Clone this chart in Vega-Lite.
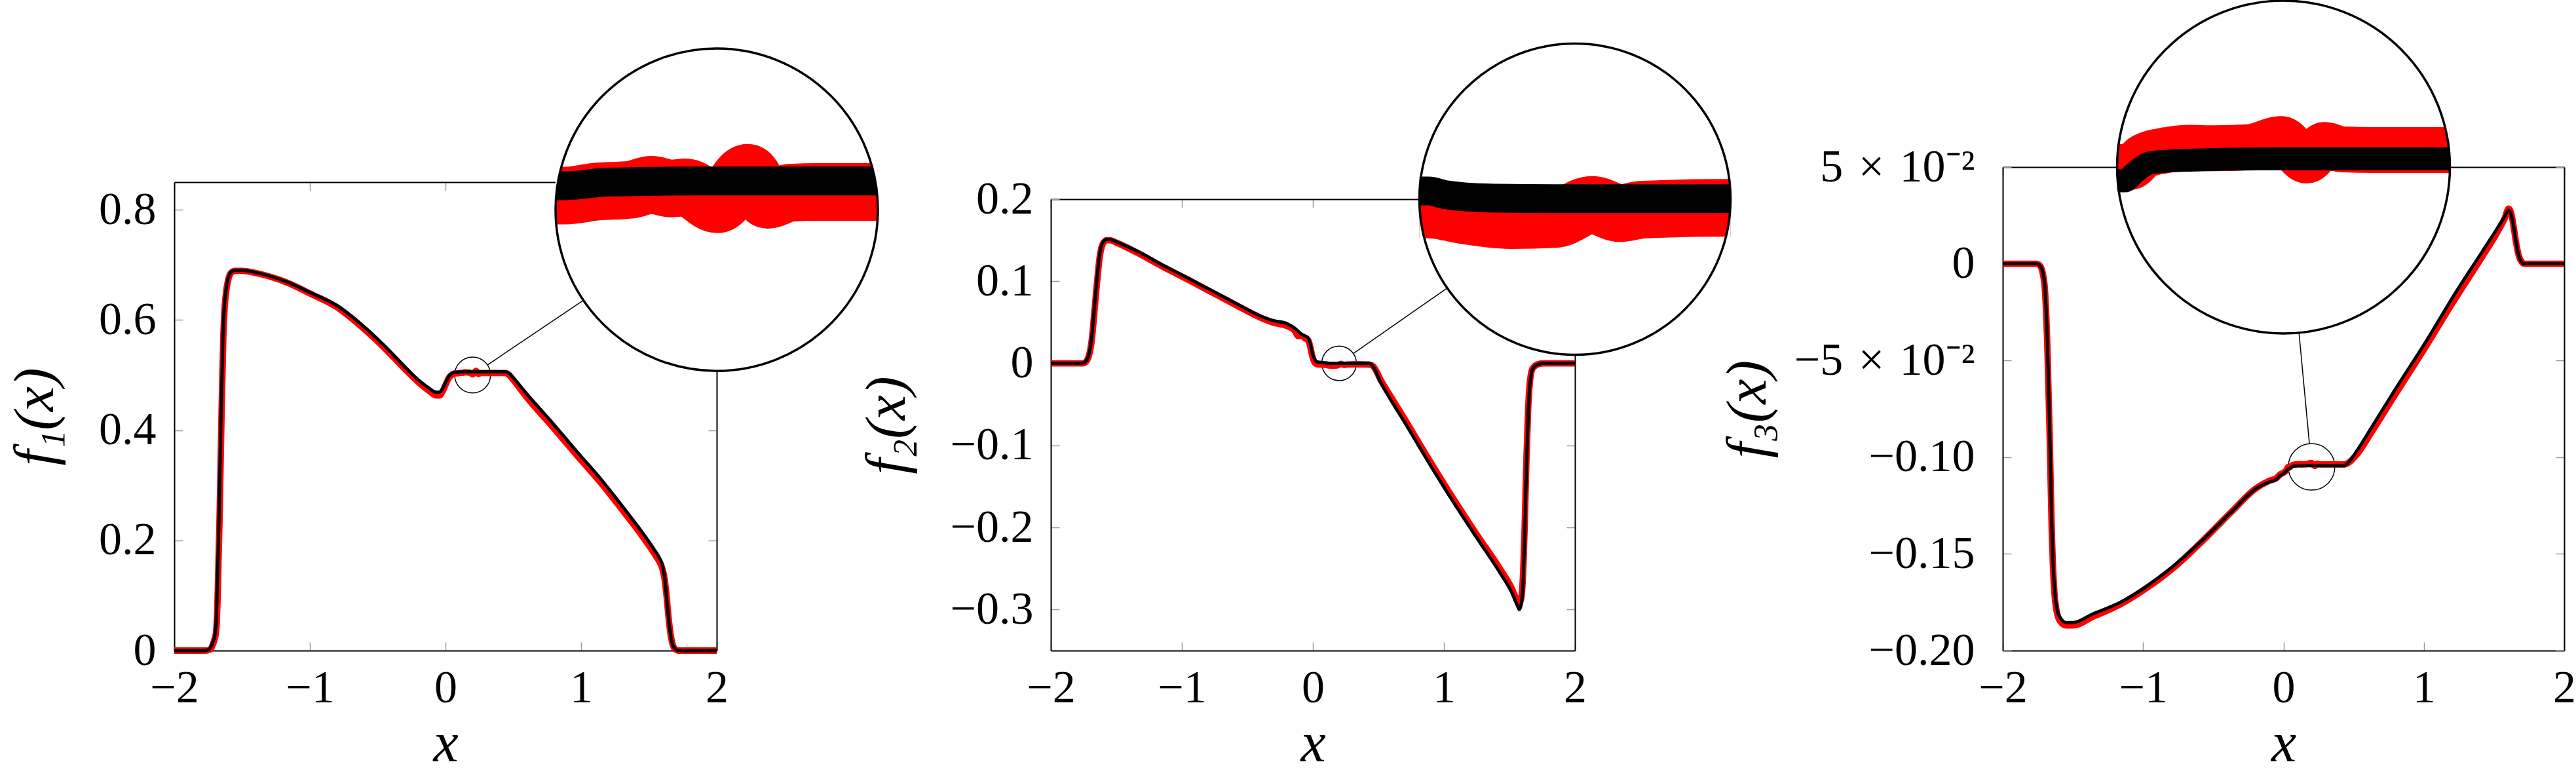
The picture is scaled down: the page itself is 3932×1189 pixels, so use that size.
{
"$schema":"https://vega.github.io/schema/vega-lite/v6.json",
"width":3932,"height":1189,"padding":0,"autosize":{"type":"none"},"background":"white",
"config":{"view":{"stroke":null},
"axis":{"grid":false,"domainColor":"#000000","domainWidth":2,"tickColor":"#999999","tickWidth":1.5,"tickSize":-13,"labelFont":"Liberation Serif, Times New Roman, serif","labelFontSize":70,"labelColor":"#000000","labelFlush":false,"labelOverlap":false,"labelBound":false,"labelLimit":1000,"titleFont":"Liberation Serif, Times New Roman, serif","titleFontSize":86,"titleFontStyle":"italic","titleFontWeight":"normal","titleColor":"#000000","titleLimit":1000}},
"datasets":{
"k1":[{"x":-2,"y":0},{"x":-1.78,"y":0},{"x":-1.745,"y":0.002},{"x":-1.727,"y":0.008},{"x":-1.712,"y":0.018},{"x":-1.699,"y":0.03},{"x":-1.69,"y":0.06},{"x":-1.685,"y":0.1},{"x":-1.67,"y":0.24},{"x":-1.656,"y":0.42},{"x":-1.642,"y":0.563},{"x":-1.632,"y":0.62},{"x":-1.621,"y":0.65},{"x":-1.607,"y":0.672},{"x":-1.593,"y":0.683},{"x":-1.57,"y":0.689},{"x":-1.55,"y":0.69},{"x":-1.5,"y":0.69},{"x":-1.4,"y":0.686},{"x":-1.3,"y":0.68},{"x":-1.16,"y":0.668},{"x":-1,"y":0.65},{"x":-0.8,"y":0.626},{"x":-0.63,"y":0.594},{"x":-0.45,"y":0.553},{"x":-0.3,"y":0.515},{"x":-0.2,"y":0.491},{"x":-0.12,"y":0.476},{"x":-0.07,"y":0.469},{"x":-0.045,"y":0.469},{"x":-0.02,"y":0.476},{"x":0,"y":0.486},{"x":0.025,"y":0.498},{"x":0.05,"y":0.5035},{"x":0.068,"y":0.50495},{"x":0.076,"y":0.50495},{"x":0.1104,"y":0.50567},{"x":0.1871,"y":0.50592},{"x":0.332,"y":0.50592},{"x":0.44,"y":0.506},{"x":0.47,"y":0.503},{"x":0.5,"y":0.495},{"x":0.611,"y":0.4625},{"x":0.8,"y":0.41},{"x":0.966,"y":0.362},{"x":1.15,"y":0.31},{"x":1.32,"y":0.257},{"x":1.45,"y":0.215},{"x":1.54,"y":0.183},{"x":1.58,"y":0.167},{"x":1.6,"y":0.155},{"x":1.615,"y":0.135},{"x":1.627,"y":0.105},{"x":1.64,"y":0.07},{"x":1.655,"y":0.037},{"x":1.67,"y":0.015},{"x":1.69,"y":0.004},{"x":1.72,"y":0},{"x":2,"y":0}],
"r1":[{"x":-2,"y":0},{"x":-1.77,"y":0},{"x":-1.737,"y":0.002},{"x":-1.72,"y":0.008},{"x":-1.706,"y":0.018},{"x":-1.694,"y":0.03},{"x":-1.685,"y":0.06},{"x":-1.68,"y":0.1},{"x":-1.666,"y":0.24},{"x":-1.652,"y":0.42},{"x":-1.639,"y":0.563},{"x":-1.629,"y":0.62},{"x":-1.618,"y":0.65},{"x":-1.604,"y":0.671},{"x":-1.59,"y":0.682},{"x":-1.567,"y":0.688},{"x":-1.55,"y":0.689},{"x":-1.5,"y":0.689},{"x":-1.4,"y":0.685},{"x":-1.3,"y":0.679},{"x":-1.16,"y":0.667},{"x":-1,"y":0.648},{"x":-0.8,"y":0.623},{"x":-0.63,"y":0.59},{"x":-0.45,"y":0.549},{"x":-0.3,"y":0.511},{"x":-0.2,"y":0.487},{"x":-0.12,"y":0.471},{"x":-0.07,"y":0.463},{"x":-0.045,"y":0.463},{"x":-0.02,"y":0.471},{"x":0,"y":0.482},{"x":0.025,"y":0.495},{"x":0.05,"y":0.501},{"x":0.068,"y":0.50297},{"x":0.076,"y":0.50297},{"x":0.1009,"y":0.50375},{"x":0.1296,"y":0.50416},{"x":0.1468,"y":0.50514},{"x":0.1622,"y":0.50439},{"x":0.1746,"y":0.50462},{"x":0.2005,"y":0.50123},{"x":0.2254,"y":0.50756},{"x":0.2417,"y":0.50213},{"x":0.2599,"y":0.50354},{"x":0.2829,"y":0.50369},{"x":0.332,"y":0.50369},{"x":0.44,"y":0.5035},{"x":0.47,"y":0.5},{"x":0.5,"y":0.491},{"x":0.611,"y":0.456},{"x":0.8,"y":0.403},{"x":0.966,"y":0.355},{"x":1.15,"y":0.303},{"x":1.32,"y":0.25},{"x":1.45,"y":0.208},{"x":1.54,"y":0.176},{"x":1.58,"y":0.16},{"x":1.6,"y":0.148},{"x":1.617,"y":0.128},{"x":1.63,"y":0.1},{"x":1.643,"y":0.065},{"x":1.658,"y":0.033},{"x":1.673,"y":0.013},{"x":1.692,"y":0.003},{"x":1.72,"y":0},{"x":2,"y":0}],
"k2":[{"x":-2,"y":0},{"x":-1.76,"y":0},{"x":-1.735,"y":0.002},{"x":-1.715,"y":0.008},{"x":-1.7,"y":0.018},{"x":-1.688,"y":0.032},{"x":-1.672,"y":0.06},{"x":-1.659,"y":0.0845},{"x":-1.645,"y":0.108},{"x":-1.633,"y":0.127},{"x":-1.615,"y":0.143},{"x":-1.596,"y":0.149},{"x":-1.575,"y":0.151},{"x":-1.55,"y":0.151},{"x":-1.5,"y":0.148},{"x":-1.32,"y":0.135},{"x":-1.15,"y":0.12},{"x":-0.954,"y":0.104},{"x":-0.8,"y":0.091},{"x":-0.587,"y":0.073},{"x":-0.404,"y":0.058},{"x":-0.3,"y":0.052},{"x":-0.2,"y":0.0485},{"x":-0.14,"y":0.043},{"x":-0.09,"y":0.036},{"x":-0.055,"y":0.033},{"x":-0.035,"y":0.031},{"x":-0.02,"y":0.024},{"x":-0.005,"y":0.013},{"x":0.01,"y":0.006},{"x":0.03,"y":0.002},{"x":0.068,"y":0.0011},{"x":0.076,"y":0.0011},{"x":0.0904,"y":0.0006},{"x":0.1274,"y":0.00015},{"x":0.183,"y":0.00006},{"x":0.332,"y":0.00006},{"x":0.43,"y":0},{"x":0.46,"y":-0.004},{"x":0.514,"y":-0.022},{"x":0.6,"y":-0.046},{"x":0.697,"y":-0.071},{"x":0.881,"y":-0.12},{"x":1.064,"y":-0.167},{"x":1.248,"y":-0.212},{"x":1.431,"y":-0.256},{"x":1.52,"y":-0.28},{"x":1.56,"y":-0.295},{"x":1.575,"y":-0.3},{"x":1.59,"y":-0.294},{"x":1.605,"y":-0.265},{"x":1.618,"y":-0.2},{"x":1.632,"y":-0.115},{"x":1.645,"y":-0.055},{"x":1.66,"y":-0.02},{"x":1.68,"y":-0.006},{"x":1.72,"y":-0.001},{"x":1.76,"y":0},{"x":2,"y":0}],
"r2":[{"x":-2,"y":0},{"x":-1.76,"y":0},{"x":-1.732,"y":0.002},{"x":-1.712,"y":0.008},{"x":-1.697,"y":0.018},{"x":-1.685,"y":0.032},{"x":-1.669,"y":0.06},{"x":-1.656,"y":0.084},{"x":-1.642,"y":0.107},{"x":-1.63,"y":0.126},{"x":-1.612,"y":0.142},{"x":-1.593,"y":0.148},{"x":-1.572,"y":0.15},{"x":-1.55,"y":0.15},{"x":-1.5,"y":0.147},{"x":-1.32,"y":0.133},{"x":-1.15,"y":0.118},{"x":-0.954,"y":0.102},{"x":-0.8,"y":0.089},{"x":-0.587,"y":0.071},{"x":-0.404,"y":0.056},{"x":-0.3,"y":0.0495},{"x":-0.2,"y":0.0455},{"x":-0.14,"y":0.04},{"x":-0.11,"y":0.033},{"x":-0.085,"y":0.033},{"x":-0.055,"y":0.03},{"x":-0.035,"y":0.028},{"x":-0.02,"y":0.02},{"x":-0.005,"y":0.009},{"x":0.01,"y":0.002},{"x":0.03,"y":-0.001},{"x":0.068,"y":-0.0014},{"x":0.076,"y":-0.0014},{"x":0.1089,"y":-0.00225},{"x":0.1459,"y":-0.00284},{"x":0.183,"y":-0.00269},{"x":0.2144,"y":-0.00077},{"x":0.2385,"y":-0.00189},{"x":0.2571,"y":-0.00142},{"x":0.324,"y":-0.00118},{"x":0.332,"y":-0.00118},{"x":0.43,"y":-0.0015},{"x":0.46,"y":-0.0035},{"x":0.52,"y":-0.021},{"x":0.6,"y":-0.042},{"x":0.697,"y":-0.067},{"x":0.881,"y":-0.116},{"x":1.064,"y":-0.163},{"x":1.248,"y":-0.208},{"x":1.431,"y":-0.251},{"x":1.52,"y":-0.275},{"x":1.555,"y":-0.288},{"x":1.572,"y":-0.293},{"x":1.588,"y":-0.288},{"x":1.603,"y":-0.26},{"x":1.616,"y":-0.2},{"x":1.63,"y":-0.115},{"x":1.643,"y":-0.055},{"x":1.658,"y":-0.02},{"x":1.678,"y":-0.006},{"x":1.72,"y":-0.001},{"x":1.76,"y":0},{"x":2,"y":0}],
"k3":[{"x":-2,"y":0},{"x":-1.76,"y":0},{"x":-1.735,"y":-0.001},{"x":-1.715,"y":-0.004},{"x":-1.7,"y":-0.012},{"x":-1.69,"y":-0.025},{"x":-1.683,"y":-0.038},{"x":-1.675,"y":-0.06},{"x":-1.667,"y":-0.081},{"x":-1.659,"y":-0.108},{"x":-1.651,"y":-0.134},{"x":-1.643,"y":-0.152},{"x":-1.632,"y":-0.167},{"x":-1.615,"y":-0.178},{"x":-1.59,"y":-0.183},{"x":-1.55,"y":-0.1855},{"x":-1.5,"y":-0.1855},{"x":-1.358,"y":-0.181},{"x":-1.16,"y":-0.175},{"x":-0.961,"y":-0.166},{"x":-0.763,"y":-0.155},{"x":-0.565,"y":-0.142},{"x":-0.367,"y":-0.128},{"x":-0.2,"y":-0.1165},{"x":-0.1,"y":-0.1128},{"x":-0.05,"y":-0.1115},{"x":-0.025,"y":-0.1095},{"x":0,"y":-0.1085},{"x":0.02,"y":-0.1072},{"x":0.0342,"y":-0.106},{"x":0.042,"y":-0.106},{"x":0.0509,"y":-0.10546},{"x":0.0672,"y":-0.1047},{"x":0.0836,"y":-0.10458},{"x":0.1069,"y":-0.1045},{"x":0.1768,"y":-0.10441},{"x":0.3658,"y":-0.10441},{"x":0.43,"y":-0.1043},{"x":0.466,"y":-0.1025},{"x":0.52,"y":-0.097},{"x":0.624,"y":-0.085},{"x":0.8,"y":-0.0645},{"x":1.021,"y":-0.0395},{"x":1.2,"y":-0.018},{"x":1.417,"y":0.0064},{"x":1.52,"y":0.018},{"x":1.576,"y":0.0245},{"x":1.604,"y":0.0277},{"x":1.62,"y":0.026},{"x":1.635,"y":0.0213},{"x":1.655,"y":0.012},{"x":1.675,"y":0.0043},{"x":1.695,"y":0.001},{"x":1.715,"y":0},{"x":2,"y":0}],
"r3":[{"x":-2,"y":0},{"x":-1.76,"y":0},{"x":-1.735,"y":-0.001},{"x":-1.715,"y":-0.005},{"x":-1.7,"y":-0.013},{"x":-1.69,"y":-0.027},{"x":-1.683,"y":-0.041},{"x":-1.675,"y":-0.063},{"x":-1.667,"y":-0.085},{"x":-1.659,"y":-0.112},{"x":-1.651,"y":-0.138},{"x":-1.643,"y":-0.155},{"x":-1.632,"y":-0.17},{"x":-1.615,"y":-0.18},{"x":-1.59,"y":-0.185},{"x":-1.55,"y":-0.187},{"x":-1.5,"y":-0.187},{"x":-1.358,"y":-0.1825},{"x":-1.16,"y":-0.176},{"x":-0.961,"y":-0.167},{"x":-0.763,"y":-0.156},{"x":-0.565,"y":-0.1425},{"x":-0.367,"y":-0.128},{"x":-0.2,"y":-0.1163},{"x":-0.1,"y":-0.1122},{"x":-0.05,"y":-0.1108},{"x":-0.025,"y":-0.109},{"x":0,"y":-0.108},{"x":0.02,"y":-0.1068},{"x":0.0342,"y":-0.105},{"x":0.0473,"y":-0.105},{"x":0.0602,"y":-0.10423},{"x":0.0836,"y":-0.10377},{"x":0.1069,"y":-0.1036},{"x":0.1302,"y":-0.10364},{"x":0.1651,"y":-0.10357},{"x":0.1977,"y":-0.10298},{"x":0.2234,"y":-0.10453},{"x":0.2409,"y":-0.1034},{"x":0.2584,"y":-0.10372},{"x":0.2933,"y":-0.10377},{"x":0.3658,"y":-0.10377},{"x":0.43,"y":-0.1038},{"x":0.466,"y":-0.1027},{"x":0.52,"y":-0.0988},{"x":0.624,"y":-0.0875},{"x":0.8,"y":-0.0672},{"x":1.021,"y":-0.042},{"x":1.2,"y":-0.0208},{"x":1.417,"y":0.0038},{"x":1.52,"y":0.0158},{"x":1.576,"y":0.0235},{"x":1.604,"y":0.0285},{"x":1.622,"y":0.0262},{"x":1.638,"y":0.02},{"x":1.657,"y":0.011},{"x":1.677,"y":0.004},{"x":1.697,"y":0.001},{"x":1.717,"y":0},{"x":2,"y":0}],
"s1":[{"cx":2,"cy":0.8,"sx":0.2,"sy":0.5,"ax":0.309,"ay":0.5182,"bx":1.015,"by":0.6354}],
"s2":[{"cx":2,"cy":0.2,"sx":0.2,"sy":0,"ax":0.3085,"ay":0.012,"bx":1.0255,"by":0.0917}],
"s3":[{"cx":0,"cy":0.05,"sx":0.2,"sy":-0.105,"ax":0.1849,"ay":-0.09306,"bx":0.1106,"by":-0.03567}]
},
"resolve":{"scale":{"x":"independent","y":"independent"},"axis":{"x":"independent","y":"independent"}},
"layer":[
{"data":{"name":"s1"},"mark":{"type":"point","shape":"circle","filled":true,"fill":"#ffffff","strokeWidth":0,"opacity":1,"size":242064},
 "encoding":{"x":{"field":"cx","type":"quantitative","scale":{"domain":[-2,2],"range":[266,1094],"nice":false,"zero":false},"axis":null},
 "y":{"field":"cy","type":"quantitative","scale":{"domain":[0,0.85],"range":[993,278],"nice":false,"zero":false},"axis":null}}},
{"data":{"name":"r1"},"transform":[{"filter":"datum.x >= 0.0679 && datum.x <= 0.3321"}],"mark":{"type":"line","color":"#ff0000","strokeWidth":88,"interpolate":"monotone","strokeJoin":"round","strokeCap":"butt"},
 "encoding":{"x":{"field":"x","type":"quantitative","scale":{"domain":[0.068,0.332],"range":[848,1340],"nice":false,"zero":false},"axis":null},
 "y":{"field":"y","type":"quantitative","scale":{"domain":[0.4675,0.5325],"range":[567,75],"nice":false,"zero":false},"axis":null}}},
{"data":{"name":"k1"},"transform":[{"filter":"datum.x >= 0.0679 && datum.x <= 0.3321"}],"mark":{"type":"line","color":"#000000","strokeWidth":44,"interpolate":"monotone","strokeJoin":"round","strokeCap":"butt"},
 "encoding":{"x":{"field":"x","type":"quantitative","scale":{"domain":[0.068,0.332],"range":[848,1340],"nice":false,"zero":false},"axis":null},
 "y":{"field":"y","type":"quantitative","scale":{"domain":[0.4675,0.5325],"range":[567,75],"nice":false,"zero":false},"axis":null}}},
{"data":{"name":"s1"},"mark":{"type":"point","shape":"M-1,-1L1,-1L1,1L-1,1Z M0,-1A1,1,0,0,0,-1,0A1,1,0,0,0,0,1A1,1,0,0,0,1,0A1,1,0,0,0,0,-1Z","filled":true,"fill":"#ffffff","strokeWidth":0,"opacity":1,"size":242064},
 "encoding":{"x":{"field":"cx","type":"quantitative","scale":{"domain":[-2,2],"range":[266,1094],"nice":false,"zero":false},"axis":null},
 "y":{"field":"cy","type":"quantitative","scale":{"domain":[0,0.85],"range":[993,278],"nice":false,"zero":false},"axis":null}}},
{"data":{"name":"s1"},"mark":{"type":"point","shape":"circle","filled":false,"stroke":"#000000","strokeWidth":3.5,"opacity":1,"size":242064},
 "encoding":{"x":{"field":"cx","type":"quantitative","scale":{"domain":[-2,2],"range":[266,1094],"nice":false,"zero":false},"axis":null},
 "y":{"field":"cy","type":"quantitative","scale":{"domain":[0,0.85],"range":[993,278],"nice":false,"zero":false},"axis":null}}},
{"data":{"name":"s1"},"mark":{"type":"point","shape":"circle","filled":false,"stroke":"#000000","strokeWidth":1.5,"opacity":1,"size":2989},
 "encoding":{"x":{"field":"sx","type":"quantitative","scale":{"domain":[-2,2],"range":[266,1094],"nice":false,"zero":false},"axis":null},
 "y":{"field":"sy","type":"quantitative","scale":{"domain":[0,0.85],"range":[993,278],"nice":false,"zero":false},"axis":null}}},
{"data":{"name":"s1"},"mark":{"type":"rule","color":"#000000","strokeWidth":1.5},
 "encoding":{"x":{"field":"ax","type":"quantitative","scale":{"domain":[-2,2],"range":[266,1094],"nice":false,"zero":false},"axis":null},"x2":{"field":"bx"},
 "y":{"field":"ay","type":"quantitative","scale":{"domain":[0,0.85],"range":[993,278],"nice":false,"zero":false},"axis":null},"y2":{"field":"by"}}},
{"data":{"name":"r1"},"mark":{"type":"line","color":"#ff0000","strokeWidth":9.8,"interpolate":"monotone","strokeJoin":"round"},
 "encoding":{"x":{"field":"x","type":"quantitative","scale":{"domain":[-2,2],"range":[266,1094],"nice":false,"zero":false},"axis":{"orient":"top","offset":-278,"values":[-2,-1,0,1,2],"labels":false,"title":null}},
 "y":{"field":"y","type":"quantitative","scale":{"domain":[0,0.85],"range":[993,278],"nice":false,"zero":false},"axis":{"orient":"right","offset":-2838,"values":[0,0.2,0.4,0.6,0.8],"labels":false,"title":null}}}},
{"data":{"name":"k1"},"mark":{"type":"line","color":"#000000","strokeWidth":4.9,"interpolate":"monotone","strokeJoin":"round"},
 "encoding":{"x":{"field":"x","type":"quantitative","scale":{"domain":[-2,2],"range":[266,1094],"nice":false,"zero":false},"axis":{"orient":"bottom","offset":-196,"values":[-2,-1,0,1,2],"format":"d","labelPadding":36,"title":"x","titlePadding":8}},
 "y":{"field":"y","type":"quantitative","scale":{"domain":[0,0.85],"range":[993,278],"nice":false,"zero":false},"axis":{"orient":"left","offset":-266,"values":[0,0.2,0.4,0.6,0.8],"format":".1~f","labelPadding":41,"title":"f\u2081(x)","titlePadding":52}}}},

{"data":{"name":"s2"},"mark":{"type":"point","shape":"circle","filled":true,"fill":"#ffffff","strokeWidth":0,"opacity":1,"size":225625},
 "encoding":{"x":{"field":"cx","type":"quantitative","scale":{"domain":[-2,2],"range":[1604,2404],"nice":false,"zero":false},"axis":null},
 "y":{"field":"cy","type":"quantitative","scale":{"domain":[-0.35,0.2],"range":[993,304],"nice":false,"zero":false},"axis":null}}},
{"data":{"name":"r2"},"transform":[{"filter":"datum.x >= 0.0679 && datum.x <= 0.3321"}],"mark":{"type":"line","color":"#ff0000","strokeWidth":88,"interpolate":"monotone","strokeJoin":"round","strokeCap":"butt"},
 "encoding":{"x":{"field":"x","type":"quantitative","scale":{"domain":[0.068,0.332],"range":[2166.5,2641.5],"nice":false,"zero":false},"axis":null},
 "y":{"field":"y","type":"quantitative","scale":{"domain":[-0.02107,0.02107],"range":[541.5,66.5],"nice":false,"zero":false},"axis":null}}},
{"data":{"name":"k2"},"transform":[{"filter":"datum.x >= 0.0679 && datum.x <= 0.3321"}],"mark":{"type":"line","color":"#000000","strokeWidth":44,"interpolate":"monotone","strokeJoin":"round","strokeCap":"butt"},
 "encoding":{"x":{"field":"x","type":"quantitative","scale":{"domain":[0.068,0.332],"range":[2166.5,2641.5],"nice":false,"zero":false},"axis":null},
 "y":{"field":"y","type":"quantitative","scale":{"domain":[-0.02107,0.02107],"range":[541.5,66.5],"nice":false,"zero":false},"axis":null}}},
{"data":{"name":"s2"},"mark":{"type":"point","shape":"M-1,-1L1,-1L1,1L-1,1Z M0,-1A1,1,0,0,0,-1,0A1,1,0,0,0,0,1A1,1,0,0,0,1,0A1,1,0,0,0,0,-1Z","filled":true,"fill":"#ffffff","strokeWidth":0,"opacity":1,"size":225625},
 "encoding":{"x":{"field":"cx","type":"quantitative","scale":{"domain":[-2,2],"range":[1604,2404],"nice":false,"zero":false},"axis":null},
 "y":{"field":"cy","type":"quantitative","scale":{"domain":[-0.35,0.2],"range":[993,304],"nice":false,"zero":false},"axis":null}}},
{"data":{"name":"s2"},"mark":{"type":"point","shape":"circle","filled":false,"stroke":"#000000","strokeWidth":3.5,"opacity":1,"size":225625},
 "encoding":{"x":{"field":"cx","type":"quantitative","scale":{"domain":[-2,2],"range":[1604,2404],"nice":false,"zero":false},"axis":null},
 "y":{"field":"cy","type":"quantitative","scale":{"domain":[-0.35,0.2],"range":[993,304],"nice":false,"zero":false},"axis":null}}},
{"data":{"name":"s2"},"mark":{"type":"point","shape":"circle","filled":false,"stroke":"#000000","strokeWidth":1.5,"opacity":1,"size":2786},
 "encoding":{"x":{"field":"sx","type":"quantitative","scale":{"domain":[-2,2],"range":[1604,2404],"nice":false,"zero":false},"axis":null},
 "y":{"field":"sy","type":"quantitative","scale":{"domain":[-0.35,0.2],"range":[993,304],"nice":false,"zero":false},"axis":null}}},
{"data":{"name":"s2"},"mark":{"type":"rule","color":"#000000","strokeWidth":1.5},
 "encoding":{"x":{"field":"ax","type":"quantitative","scale":{"domain":[-2,2],"range":[1604,2404],"nice":false,"zero":false},"axis":null},"x2":{"field":"bx"},
 "y":{"field":"ay","type":"quantitative","scale":{"domain":[-0.35,0.2],"range":[993,304],"nice":false,"zero":false},"axis":null},"y2":{"field":"by"}}},
{"data":{"name":"r2"},"mark":{"type":"line","color":"#ff0000","strokeWidth":9.8,"interpolate":"monotone","strokeJoin":"round"},
 "encoding":{"x":{"field":"x","type":"quantitative","scale":{"domain":[-2,2],"range":[1604,2404],"nice":false,"zero":false},"axis":{"orient":"top","offset":-304,"values":[-2,-1,0,1,2],"labels":false,"title":null}},
 "y":{"field":"y","type":"quantitative","scale":{"domain":[-0.35,0.2],"range":[993,304],"nice":false,"zero":false},"axis":{"orient":"right","offset":-1528,"values":[-0.3,-0.2,-0.1,0,0.1,0.2],"labels":false,"title":null}}}},
{"data":{"name":"k2"},"mark":{"type":"line","color":"#000000","strokeWidth":4.9,"interpolate":"monotone","strokeJoin":"round"},
 "encoding":{"x":{"field":"x","type":"quantitative","scale":{"domain":[-2,2],"range":[1604,2404],"nice":false,"zero":false},"axis":{"orient":"bottom","offset":-196,"values":[-2,-1,0,1,2],"format":"d","labelPadding":36,"title":"x","titlePadding":8}},
 "y":{"field":"y","type":"quantitative","scale":{"domain":[-0.35,0.2],"range":[993,304],"nice":false,"zero":false},"axis":{"orient":"left","offset":-1604,"values":[-0.3,-0.2,-0.1,0,0.1,0.2],"format":".1~f","labelPadding":40,"title":"f\u2082(x)","titlePadding":52}}}},

{"data":{"name":"s3"},"mark":{"type":"point","shape":"circle","filled":true,"fill":"#ffffff","strokeWidth":0,"opacity":1,"size":258064},
 "encoding":{"x":{"field":"cx","type":"quantitative","scale":{"domain":[-2,2],"range":[3057,3914],"nice":false,"zero":false},"axis":null},
 "y":{"field":"cy","type":"quantitative","scale":{"domain":[-0.2,0.05],"range":[993,255],"nice":false,"zero":false},"axis":null}}},
{"data":{"name":"r3"},"transform":[{"filter":"datum.x >= 0.0341 && datum.x <= 0.3659"}],"mark":{"type":"line","color":"#ff0000","strokeWidth":70,"interpolate":"monotone","strokeJoin":"round","strokeCap":"butt"},
 "encoding":{"x":{"field":"x","type":"quantitative","scale":{"domain":[0.0342,0.3658],"range":[3231.5,3739.5],"nice":false,"zero":false},"axis":null},
 "y":{"field":"y","type":"quantitative","scale":{"domain":[-0.11703,-0.09297],"range":[509,1],"nice":false,"zero":false},"axis":null}}},
{"data":{"name":"k3"},"transform":[{"filter":"datum.x >= 0.0341 && datum.x <= 0.3659"}],"mark":{"type":"line","color":"#000000","strokeWidth":35,"interpolate":"monotone","strokeJoin":"round","strokeCap":"butt"},
 "encoding":{"x":{"field":"x","type":"quantitative","scale":{"domain":[0.0342,0.3658],"range":[3231.5,3739.5],"nice":false,"zero":false},"axis":null},
 "y":{"field":"y","type":"quantitative","scale":{"domain":[-0.11703,-0.09297],"range":[509,1],"nice":false,"zero":false},"axis":null}}},
{"data":{"name":"s3"},"mark":{"type":"point","shape":"M-1,-1L1,-1L1,1L-1,1Z M0,-1A1,1,0,0,0,-1,0A1,1,0,0,0,0,1A1,1,0,0,0,1,0A1,1,0,0,0,0,-1Z","filled":true,"fill":"#ffffff","strokeWidth":0,"opacity":1,"size":258064},
 "encoding":{"x":{"field":"cx","type":"quantitative","scale":{"domain":[-2,2],"range":[3057,3914],"nice":false,"zero":false},"axis":null},
 "y":{"field":"cy","type":"quantitative","scale":{"domain":[-0.2,0.05],"range":[993,255],"nice":false,"zero":false},"axis":null}}},
{"data":{"name":"s3"},"mark":{"type":"point","shape":"circle","filled":false,"stroke":"#000000","strokeWidth":3.5,"opacity":1,"size":258064},
 "encoding":{"x":{"field":"cx","type":"quantitative","scale":{"domain":[-2,2],"range":[3057,3914],"nice":false,"zero":false},"axis":null},
 "y":{"field":"cy","type":"quantitative","scale":{"domain":[-0.2,0.05],"range":[993,255],"nice":false,"zero":false},"axis":null}}},
{"data":{"name":"s3"},"mark":{"type":"point","shape":"circle","filled":false,"stroke":"#000000","strokeWidth":1.5,"opacity":1,"size":5048},
 "encoding":{"x":{"field":"sx","type":"quantitative","scale":{"domain":[-2,2],"range":[3057,3914],"nice":false,"zero":false},"axis":null},
 "y":{"field":"sy","type":"quantitative","scale":{"domain":[-0.2,0.05],"range":[993,255],"nice":false,"zero":false},"axis":null}}},
{"data":{"name":"s3"},"mark":{"type":"rule","color":"#000000","strokeWidth":1.5},
 "encoding":{"x":{"field":"ax","type":"quantitative","scale":{"domain":[-2,2],"range":[3057,3914],"nice":false,"zero":false},"axis":null},"x2":{"field":"bx"},
 "y":{"field":"ay","type":"quantitative","scale":{"domain":[-0.2,0.05],"range":[993,255],"nice":false,"zero":false},"axis":null},"y2":{"field":"by"}}},
{"data":{"name":"r3"},"mark":{"type":"line","color":"#ff0000","strokeWidth":9.8,"interpolate":"monotone","strokeJoin":"round"},
 "encoding":{"x":{"field":"x","type":"quantitative","scale":{"domain":[-2,2],"range":[3057,3914],"nice":false,"zero":false},"axis":{"orient":"top","offset":-255,"values":[-2,-1,0,1,2],"labels":false,"title":null}},
 "y":{"field":"y","type":"quantitative","scale":{"domain":[-0.2,0.05],"range":[993,255],"nice":false,"zero":false},"axis":{"orient":"right","offset":-18,"values":[-0.2,-0.15,-0.1,-0.05,0,0.05],"labels":false,"title":null}}}},
{"data":{"name":"k3"},"mark":{"type":"line","color":"#000000","strokeWidth":4.9,"interpolate":"monotone","strokeJoin":"round"},
 "encoding":{"x":{"field":"x","type":"quantitative","scale":{"domain":[-2,2],"range":[3057,3914],"nice":false,"zero":false},"axis":{"orient":"bottom","offset":-196,"values":[-2,-1,0,1,2],"format":"d","labelPadding":36,"title":"x","titlePadding":8}},
 "y":{"field":"y","type":"quantitative","scale":{"domain":[-0.2,0.05],"range":[993,255],"nice":false,"zero":false},"axis":{"orient":"left","offset":-3057,"values":[-0.2,-0.15,-0.1,-0.05,0,0.05],"labelExpr":"datum.value > 0.04 ? '5\u2004\u00d7\u200410\u207b\u00b2' : (datum.value > -0.01 ? '0' : (datum.value > -0.06 ? '\u22125\u2004\u00d7\u200410\u207b\u00b2' : format(datum.value, '.2f')))","labelPadding":56,"title":"f\u2083(x)","titlePadding":145}}}}
]
}
